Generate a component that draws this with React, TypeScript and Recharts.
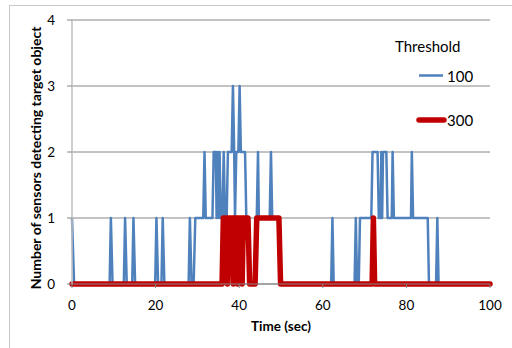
import React from "react";
import { CartesianGrid, Line, LineChart, XAxis, YAxis } from "recharts";

// threshold 100 (blue): time in sec, number of sensors
const blueTime = [
  0, 0.5, 9.0, 9.3, 9.7, 12.4, 12.7, 13.1, 14.4, 14.7, 15.1, 19.9, 20.2, 20.6,
  21.4, 21.7, 22.1, 27.9, 28.2, 28.6, 29.1, 29.5, 31.4, 31.7, 32.0, 33.6, 33.9,
  34.4, 34.6, 34.8, 35.1, 35.3, 35.6, 36.0, 36.3, 36.6, 37.0, 37.3, 38.2, 38.5,
  38.8, 39.0, 39.3, 39.8, 40.1, 40.4, 41.4, 41.7, 42.1, 42.5, 43.9, 44.2, 44.5,
  44.7, 45.0, 47.3, 47.6, 47.9, 49.6, 49.9, 62.0, 62.3, 62.6, 67.6, 67.9, 68.2,
  68.6, 68.9, 71.6, 71.9, 73.1, 73.4, 73.8, 74.0, 74.2, 74.4, 75.2, 75.5, 76.5,
  76.7, 77.0, 81.1, 81.3, 81.6, 85.1, 85.4, 87.1, 87.4, 87.7, 100,
];
const blueCount = [
  1, 0, 0, 1, 0, 0, 1, 0, 0, 1, 0, 0, 1, 0,
  0, 1, 0, 0, 1, 0, 0, 1, 1, 2, 1, 1, 2,
  2, 1, 2, 1, 2, 1, 1, 2, 1, 1, 2, 2, 3,
  2, 1, 2, 2, 3, 2, 2, 1, 1, 0, 0, 1, 2,
  1, 1, 1, 2, 1, 1, 0, 0, 1, 0, 0, 1, 0,
  0, 1, 1, 2, 2, 1, 1, 2, 1, 2, 2, 1, 1,
  2, 1, 1, 2, 1, 1, 0, 0, 1, 0, 0,
];

// threshold 300 (red)
const redTime = [
  0, 35.9, 36.2, 36.9, 37.2, 37.5, 38.3, 38.6, 38.9, 39.3, 39.6, 39.9, 40.4,
  40.7, 41.0, 42.1, 42.5, 43.8, 44.2, 49.5, 49.9, 71.8, 72.1, 72.4, 100,
];
const redCount = [
  0, 0, 1, 1, 0, 1, 1, 0, 1, 1, 0, 1, 1,
  0, 1, 1, 0, 0, 1, 1, 0, 0, 1, 0, 0,
];

const xTicks = [0, 20, 40, 60, 80, 100];
const yTicks = [0, 1, 2, 3, 4];
const legendTitle = "Threshold";
const seriesNames = ["100", "300"];

const blueData = blueTime.map((t, i) => ({ t, n: blueCount[i] }));
const redData = redTime.map((t, i) => ({ t, n: redCount[i] }));

const font = "Lato, 'Open Sans', sans-serif";

export default function App() {
  return (
    <div style={{ position: "absolute", left: 0, top: 0, width: 512, height: 348, background: "#fff", fontFamily: font }}>
      <div
        style={{
          position: "absolute",
          left: 9,
          top: 5,
          width: 503,
          height: 343,
          borderTop: "1px solid #c8c8c8",
          borderLeft: "1px solid #c8c8c8",
          boxSizing: "border-box",
        }}
      />
      <LineChart
        width={512}
        height={348}
        margin={{ top: 20, right: 22, bottom: 0, left: 0 }}
        style={{ position: "absolute", left: 0, top: 0, fontFamily: font }}
      >
        <CartesianGrid vertical={false} stroke="#868686" strokeWidth={1} />
        <XAxis
          dataKey="t"
          type="number"
          domain={[0, 100]}
          ticks={xTicks}
          allowDuplicatedCategory={false}
          height={64}
          stroke="#868686"
          tickSize={4}
          tickMargin={12}
          tick={{ fill: "#000", fontSize: 13.5, fontFamily: font }}
          label={{
            content: () => (
              <text x={281} y={331} textAnchor="middle" fontSize={13.5} fontWeight="bold" fontFamily={font} fill="#000">
                Time (sec)
              </text>
            ),
          }}
        />
        <YAxis
          type="number"
          domain={[0, 4]}
          ticks={yTicks}
          width={72}
          axisLine={{ stroke: "#bfbfbf", strokeWidth: 1.5 }}
          tickLine={{ stroke: "#868686" }}
          tickSize={5}
          tickMargin={12}
          tick={{ fill: "#000", fontSize: 13.5, fontFamily: font }}
          label={{
            content: () => (
              <text
                x={41}
                y={158}
                transform="rotate(-90 41 158)"
                textAnchor="middle"
                fontSize={14}
                fontWeight="bold"
                fontFamily={font}
                fill="#000"
              >
                Number of sensors detecting target object
              </text>
            ),
          }}
        />
        <Line
          data={blueData}
          dataKey="n"
          name={seriesNames[0]}
          stroke="#4f81bd"
          strokeWidth={2.5}
          dot={false}
          strokeLinejoin="round"
          isAnimationActive={false}
        />
        <Line
          data={redData}
          dataKey="n"
          name={seriesNames[1]}
          stroke="#c00000"
          strokeWidth={5.5}
          dot={false}
          strokeLinejoin="round"
          strokeLinecap="round"
          isAnimationActive={false}
        />
      </LineChart>
      <svg width={512} height={348} style={{ position: "absolute", left: 0, top: 0, pointerEvents: "none" }}>
        <text x={395} y={51.5} fontSize={15} fontFamily={font} fill="#000">
          {legendTitle}
        </text>
        <line x1={419} y1={75.5} x2={443} y2={75.5} stroke="#4f81bd" strokeWidth={2.5} />
        <text x={447} y={81.5} fontSize={15} fontFamily={font} fill="#000">
          {seriesNames[0]}
        </text>
        <line x1={419} y1={120} x2={444} y2={120} stroke="#c00000" strokeWidth={5.5} strokeLinecap="round" />
        <text x={447} y={126} fontSize={15} fontFamily={font} fill="#000">
          {seriesNames[1]}
        </text>
      </svg>
    </div>
  );
}
